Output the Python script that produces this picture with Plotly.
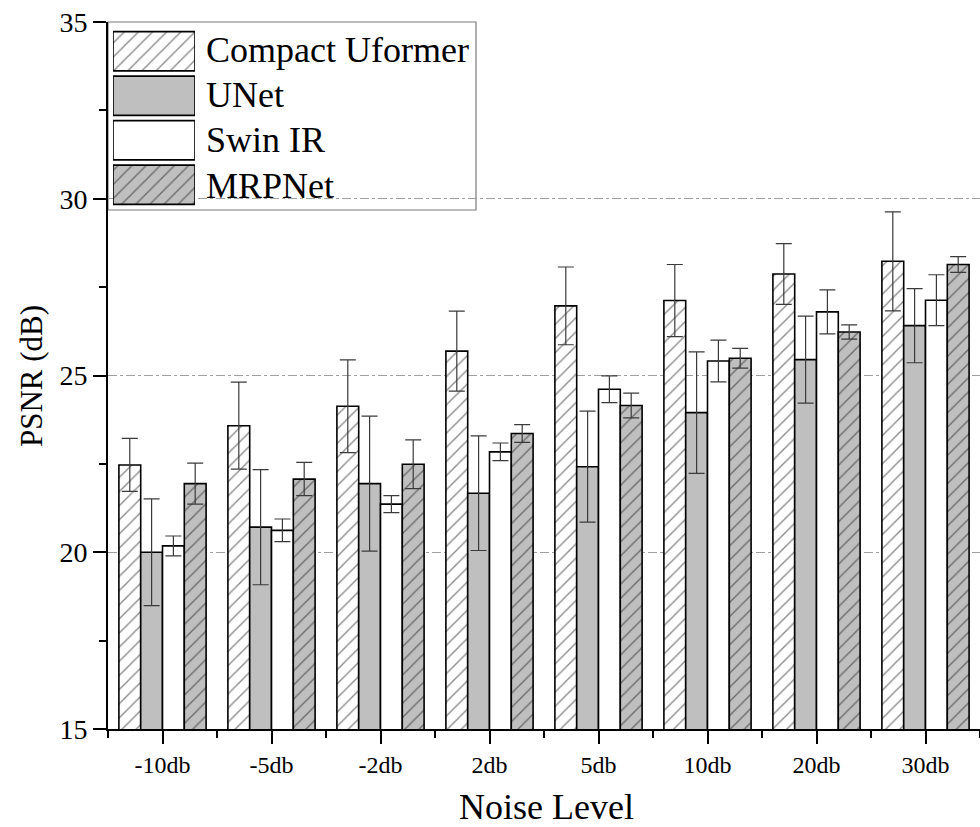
import plotly.graph_objects as go

# ---------------- data ----------------
categories = ["-10db", "-5db", "-2db", "2db", "5db", "10db", "20db", "30db"]
series_names = ["Compact Uformer", "UNet", "Swin IR", "MRPNet"]

compact_uformer = [22.47, 23.58, 24.13, 25.69, 26.97, 27.12, 27.87, 28.23]
compact_uformer_err = [0.75, 1.23, 1.31, 1.13, 1.10, 1.02, 0.86, 1.40]
unet = [20.00, 20.71, 21.94, 21.67, 22.42, 23.95, 25.45, 26.41]
unet_err = [1.51, 1.63, 1.91, 1.62, 1.57, 1.72, 1.23, 1.05]
swin_ir = [20.18, 20.62, 21.36, 22.84, 24.61, 25.41, 26.80, 27.13]
swin_ir_err = [0.28, 0.32, 0.24, 0.25, 0.38, 0.59, 0.62, 0.72]
mrpnet = [21.94, 22.07, 22.49, 23.36, 24.15, 25.49, 26.23, 28.14]
mrpnet_err = [0.58, 0.47, 0.69, 0.25, 0.35, 0.28, 0.20, 0.22]

y_range = [15, 35]
x_title = "Noise Level"
y_title = "PSNR (dB)"

values = [compact_uformer, unet, swin_ir, mrpnet]
errors = [compact_uformer_err, unet_err, swin_ir_err, mrpnet_err]

# ---------------- styles ----------------
FONT = "Liberation Serif, Times New Roman, serif"
GRAY = "#bfbfbf"
styles = [
    dict(color="white", pattern=dict(shape="/", size=10, solidity=0.14, fgcolor="#1a1a1a", bgcolor="white", fillmode="overlay")),
    dict(color=GRAY, pattern=None),
    dict(color="white", pattern=None),
    dict(color=GRAY, pattern=dict(shape="/", size=10, solidity=0.14, fgcolor="#1a1a1a", bgcolor=GRAY, fillmode="overlay")),
]

xs = list(range(len(categories)))

fig = go.Figure()
for name, vals, errs, st in zip(series_names, values, errors, styles):
    marker = dict(color=st["color"], line=dict(color="black", width=1.6))
    if st["pattern"]:
        marker["pattern"] = st["pattern"]
    fig.add_trace(go.Bar(
        x=xs, y=vals, name=name, marker=marker, showlegend=False,
        error_y=dict(type="data", array=errs, visible=True, color="#3a3a3a", thickness=1.2, width=8),
        xaxis="x", yaxis="y",
    ))

# custom legend swatches (inset axes)
for i, (name, st) in enumerate(zip(series_names, styles)):
    marker = dict(color=st["color"], line=dict(color="black", width=1.6))
    if st["pattern"]:
        marker["pattern"] = st["pattern"]
    fig.add_trace(go.Bar(
        x=[1], y=[i], base=[0], orientation="h", width=[0.88], offset=[-0.44],
        marker=marker, showlegend=False, hoverinfo="skip",
        xaxis="x2", yaxis="y2",
    ))

W, H = 980, 827
ml, mr, mt, mb = 108, 0, 22, 98
pw, ph = W - ml - mr, H - mt - mb

def px_x(p):
    return (p - ml) / pw

def px_y(p):
    return (H - mb - p) / ph

axis_common = dict(showline=True, linecolor="black", linewidth=2, tickcolor="black", tickwidth=2, zeroline=False)

fig.update_layout(
    width=W, height=H,
    margin=dict(l=ml, r=mr, t=mt, b=mb, pad=0),
    paper_bgcolor="white", plot_bgcolor="white",
    barmode="group", bargap=0.2, bargroupgap=0,
    font=dict(family=FONT, color="black"),
    xaxis=dict(
        range=[-0.5, len(categories) - 0.5], tickmode="array", tickvals=xs, ticktext=categories,
        ticks="outside", ticklen=13, showgrid=False,
        tickfont=dict(size=24, family=FONT),
        minor=dict(ticks="outside", ticklen=7, tickmode="linear", tick0=-0.5, dtick=1, tickcolor="black", tickwidth=2),
        **axis_common,
    ),
    xaxis3=dict(
        overlaying="x", side="top", anchor="y",
        range=[-0.5, len(categories) - 0.5], tickmode="array", tickvals=xs,
        ticks="inside", ticklen=11, showticklabels=False, showgrid=False,
        minor=dict(ticks="inside", ticklen=6, tickmode="linear", tick0=-0.5, dtick=1, tickcolor="black", tickwidth=2),
        **axis_common,
    ),
    yaxis=dict(
        range=y_range, tickmode="linear", tick0=15, dtick=5,
        ticks="outside", ticklen=13, showgrid=True, gridcolor="#a0a0a0", gridwidth=1, griddash="dashdot",
        tickfont=dict(size=28, family=FONT),
        minor=dict(ticks="outside", ticklen=7, tickmode="linear", tick0=15, dtick=2.5, tickcolor="black", tickwidth=2, showgrid=False),
        **axis_common,
    ),
    yaxis3=dict(
        overlaying="y", side="right", anchor="x",
        range=y_range, tickmode="linear", tick0=15, dtick=5,
        ticks="inside", ticklen=12, showticklabels=False, showgrid=False,
        minor=dict(ticks="inside", ticklen=7, tickmode="linear", tick0=15, dtick=2.5, tickcolor="black", tickwidth=2, showgrid=False),
        **axis_common,
    ),
    xaxis2=dict(domain=[px_x(113), px_x(195)], anchor="y2", range=[0, 1], visible=False, fixedrange=True),
    yaxis2=dict(domain=[px_y(207), px_y(29)], anchor="x2", range=[3.5, -0.5], visible=False, fixedrange=True),
)

# axis titles
fig.add_annotation(x=px_x(546), y=px_y(807), xref="paper", yref="paper", text=x_title,
                   showarrow=False, xanchor="center", yanchor="middle",
                   font=dict(size=36, family=FONT, color="black"))
fig.add_annotation(x=px_x(31), y=px_y(376), xref="paper", yref="paper", text=y_title,
                   showarrow=False, xanchor="center", yanchor="middle", textangle=-90,
                   font=dict(size=31, family=FONT, color="black"))

# legend box (white background hides gridline, drawn under traces)
fig.add_shape(type="rect", xref="paper", yref="paper",
              x0=px_x(108), x1=px_x(476), y0=px_y(210), y1=px_y(22),
              fillcolor="white", line=dict(color="#7a7a7a", width=1.2), layer="between")

row_centers = [50, 95, 140, 186]
for name, yc in zip(series_names, row_centers):
    fig.add_annotation(x=px_x(204), y=px_y(yc), xref="paper", yref="paper",
                       text=name, showarrow=False, xanchor="left", yanchor="middle",
                       font=dict(size=36, family=FONT, color="black"))

fig.write_html("out.html")
